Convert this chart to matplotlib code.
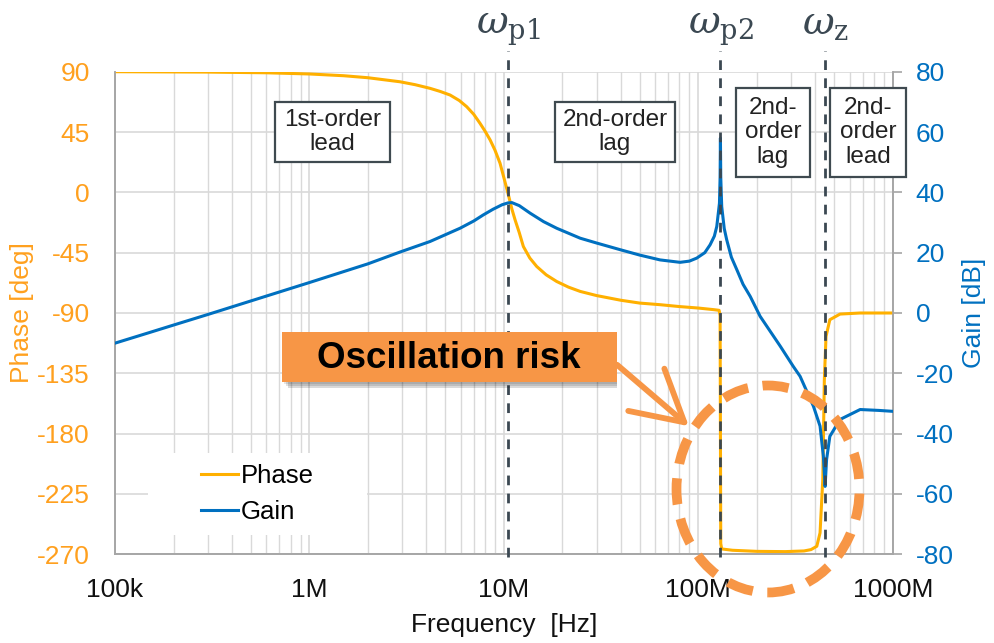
import numpy as np
import matplotlib
matplotlib.use('Agg')
import matplotlib.pyplot as plt
import matplotlib.transforms as mtransforms
from matplotlib.patches import Rectangle, Ellipse, FancyArrowPatch
from matplotlib.ticker import LogLocator, NullFormatter
from matplotlib.lines import Line2D

plt.rcParams['font.family'] = ['Liberation Sans', 'DejaVu Sans']
plt.rcParams['mathtext.fontset'] = 'dejavuserif'
plt.rcParams['axes.unicode_minus'] = False

# phase curve
phase_freq = [1e5, 3e5, 6e5, 1e6, 1.5e6, 2e6, 2.92e6, 3.5e6, 4.17e6, 4.7e6, 5.29e6,
              5.9e6, 6.44e6, 7e6, 7.54e6, 8e6, 8.5e6, 9e6, 9.56e6, 1.0e7, 1.05e7,
              1.1e7, 1.142e7, 1.2e7, 1.26e7, 1.36e7, 1.476e7, 1.65e7, 1.87e7, 2.15e7,
              2.47e7, 3e7, 4e7, 5e7, 6.36e7, 8e7, 1.0e8, 1.2e8, 1.28e8, 1.295e8,
              1.30e8, 1.305e8, 1.32e8, 1.5e8, 2e8, 2.8e8, 3.5e8, 3.8e8, 4.07e8,
              4.23e8, 4.37e8, 4.45e8, 4.54e8, 4.75e8, 5.36e8, 6.8e8, 1e9]
phase_deg = [90, 89.7, 89.2, 88.3, 87, 85.5, 82.5, 80.3, 77.6, 75.3, 72.6,
             68.5, 63.9, 58.2, 51.5, 45.7, 39.1, 31.5, 21.7, 11, -0.6,
             -12.5, -20.5, -30, -40.4, -49, -55.3, -61.5, -66.5, -70.7,
             -73.9, -77, -80.5, -82.6, -83.8, -85.2, -86.3, -87.5, -88, -92,
             -180, -262, -266, -267, -267.8, -268, -267.5, -266.5, -264,
             -254, -214, -140, -107.5, -95, -90.8, -90, -90]

# gain curve
gain_freq = [1e5, 1.5e5, 2e5, 3e5, 5e5, 1e6, 2e6, 2.92e6, 4.17e6, 5.95e6, 7e6, 7.83e6,
             8.8e6, 9.8e6, 1.05e7, 1.10e7, 1.2e7, 1.365e7, 1.6e7, 1.87e7, 2.47e7, 3e7,
             3.96e7, 5e7, 6.36e7, 8.06e7, 9.0e7, 9.82e7, 1.08e8, 1.15e8, 1.21e8,
             1.245e8, 1.285e8, 1.295e8, 1.30e8, 1.305e8, 1.32e8, 1.36e8, 1.40e8,
             1.48e8, 1.58e8, 1.7e8, 1.85e8, 2.08e8, 2.64e8, 3.08e8, 3.34e8, 3.91e8,
             4.23e8, 4.4e8, 4.49e8, 4.57e8, 4.75e8, 5.36e8, 6.8e8, 8.5e8, 1e9]
gain_db = [-10, -6.5, -4, -0.5, 4, 10.1, 16.3, 20.2, 23.7, 28.1, 30.5, 32.5,
           34.4, 35.9, 36.5, 36.6, 35.6, 33.1, 30.3, 28.1, 24.8, 23.2,
           21, 19.2, 17.6, 16.8, 17.2, 18.2, 20, 22.6, 25.5,
           28.7, 36.4, 45, 58, 45, 35.3, 28, 24.3,
           18.5, 14.3, 9.5, 5.5, -1.1, -11, -17.7, -21, -30.9,
           -37.5, -47.5, -57.5, -48.6, -40.9, -35.3, -32, -32.3, -32.6]

marker_freq = [1.05e7, 1.30e8, 4.49e8]
marker_text = [r'$\omega_{\mathrm{p1}}$', r'$\omega_{\mathrm{p2}}$', r'$\omega_{\mathrm{z}}$']

region_text = ['1st-order\nlead', '2nd-order\nlag', '2nd-\norder\nlag', '2nd-\norder\nlead']

x_ticks = [1e5, 1e6, 1e7, 1e8, 1e9]
x_ticklabels = ['100k', '1M', '10M', '100M', '1000M']
phase_ticks = [-270, -225, -180, -135, -90, -45, 0, 45, 90]
gain_ticks = [-80, -60, -40, -20, 0, 20, 40, 60, 80]

W, H = 995, 643
orange_line = '#FFB000'
orange_txt = '#FFA01E'
blue = '#0070C0'
grid_c = '#D9D9D9'
spine_c = '#A6A6A6'
dark = '#3B4852'
risk_c = '#F79646'

def fx(px):
    return px / W

def fy(py):
    return 1 - py / H

fig = plt.figure(figsize=(W / 100, H / 100), dpi=100)
ax = fig.add_axes([fx(115), fy(554.3), (892.7 - 115) / W, (554.3 - 71.7) / H])
ax2 = ax.twinx()

ax.set_xscale('log')
ax.set_xlim(1e5, 1e9)
ax.set_ylim(-270, 90)
ax2.set_ylim(-80, 80)

ax.xaxis.set_minor_locator(LogLocator(base=10, subs=np.arange(2, 10), numticks=20))
ax.xaxis.set_minor_formatter(NullFormatter())
ax.set_xticks(x_ticks)
ax.set_xticklabels(x_ticklabels)
ax.set_yticks(phase_ticks)
ax2.set_yticks(gain_ticks)

ax.grid(which='major', axis='both', color=grid_c, lw=1.2)
ax.grid(which='minor', axis='x', color=grid_c, lw=1.0)
ax.set_axisbelow(True)

for a in (ax, ax2):
    a.spines['top'].set_visible(False)
    for s in ('left', 'right', 'bottom'):
        a.spines[s].set_color(spine_c)
        a.spines[s].set_linewidth(1.2)

ax.tick_params(axis='x', which='both', length=0, pad=17, labelsize=19, colors='#111111')
ax.tick_params(axis='y', length=0, pad=18, labelsize=19, labelcolor=orange_txt)
ax2.tick_params(axis='y', length=6.5, width=1.2, color=spine_c, pad=10, labelsize=19,
                labelcolor=blue)

ax.set_xlabel('Frequency  [Hz]', fontsize=19, labelpad=8, color='#111111')
ax.set_ylabel('Phase [deg]', fontsize=19, color=orange_txt, labelpad=2)
ax2.set_ylabel('Gain [dB]', fontsize=19, color=blue, labelpad=6)

ax.plot(phase_freq, phase_deg, color=orange_line, lw=2.2, zorder=3)
ax2.plot(gain_freq, gain_db, color=blue, lw=2.2, zorder=3)

# white legend area
ax2.add_patch(Rectangle((fx(148), fy(535)), (367 - 148) / W, (535 - 453) / H,
                        transform=fig.transFigure, facecolor='white', edgecolor='none',
                        zorder=1))
handles = [Line2D([], [], color=orange_line, lw=2.2), Line2D([], [], color=blue, lw=2.2)]
leg = ax2.legend(handles, ['Phase', 'Gain'], loc='center left', frameon=False,
                 bbox_to_anchor=(fx(178), fy(494)), bbox_transform=fig.transFigure,
                 fontsize=18.5, handlelength=1.45, handletextpad=0.1, labelspacing=0.5)
leg.set_zorder(5)

# dashed marker lines with omega labels
trans = mtransforms.blended_transform_factory(ax.transData, ax.transAxes)
for f, t in zip(marker_freq, marker_text):
    ax2.plot([f, f], [-0.006, 1.042], transform=trans, clip_on=False, color=dark,
             lw=2.0, ls=(0, (3.5, 3)), zorder=6)
    ax.text(f, 1.079, t, transform=trans, ha='center', va='baseline', fontsize=28,
            color=dark)

# region boxes
boxes = [(275, 102, 390, 162), (555, 102, 675, 162), (736, 88, 810, 177), (830, 88, 906, 177)]
for (x0, y0, x1, y1), t in zip(boxes, region_text):
    fig.add_artist(Rectangle((fx(x0), fy(y1)), (x1 - x0) / W, (y1 - y0) / H,
                             transform=fig.transFigure, facecolor='white',
                             edgecolor='#3F4A50', lw=1.6, zorder=3))
    fig.text(fx((x0 + x1) / 2), fy((y0 + y1) / 2), t, ha='center', va='center',
             fontsize=17.5, color='#222222', linespacing=1.15, zorder=4)

# oscillation risk callout
for k, a in enumerate([0.10, 0.12, 0.15]):
    d = 2 + 2 * k
    fig.add_artist(Rectangle((fx(282 + d), fy(382 + d)), (335 - d) / W, (50) / H,
                             transform=fig.transFigure, facecolor='black',
                             edgecolor='none', alpha=a, zorder=3))
fig.add_artist(Rectangle((fx(282), fy(382.3)), (617 - 282) / W, (382.3 - 332.3) / H,
                         transform=fig.transFigure, facecolor=risk_c, edgecolor='none',
                         zorder=4))
fig.text(fx(449), fy(358), 'Oscillation risk', ha='center', va='center',
         fontsize=26.5, fontweight='bold', color='black', zorder=5)

arrow = FancyArrowPatch((fx(615), fy(363)), (fx(691), fy(428)),
                        transform=fig.transFigure, arrowstyle='->,head_length=0.9,head_width=0.5',
                        mutation_scale=40, color=risk_c, lw=4.2, capstyle='round',
                        joinstyle='round', zorder=5)
fig.add_artist(arrow)

ell = Ellipse((fx(768), fy(489)), 183 / W, 207 / H, transform=fig.transFigure,
              facecolor='none', edgecolor=risk_c, lw=7, ls=(0, (2.7, 1.5)), zorder=7)
fig.add_artist(ell)

fig.savefig('out.png', dpi=100)
